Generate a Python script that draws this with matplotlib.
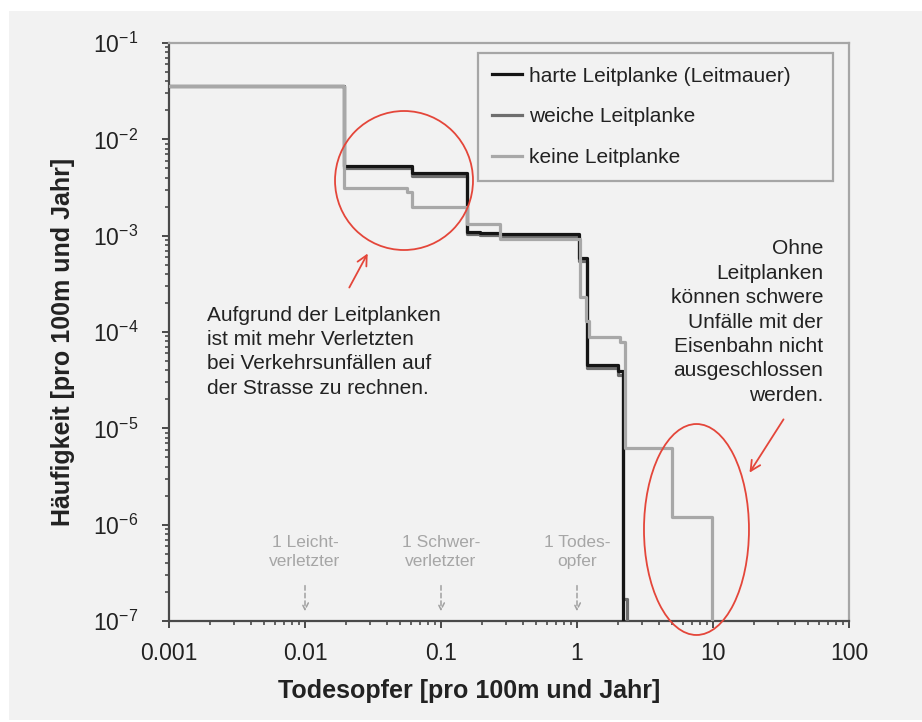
import numpy as np
import matplotlib
matplotlib.use("Agg")
import matplotlib.pyplot as plt
from matplotlib.patches import Ellipse, Rectangle
from matplotlib.ticker import FixedLocator, FixedFormatter, FuncFormatter, NullFormatter, LogLocator
import matplotlib.transforms as mtransforms

plt.rcParams['font.family'] = ['Liberation Sans', 'DejaVu Sans']
plt.rcParams['mathtext.fontset'] = 'custom'
plt.rcParams['mathtext.rm'] = 'Liberation Sans'
plt.rcParams['mathtext.it'] = 'Liberation Sans:italic'
plt.rcParams['mathtext.bf'] = 'Liberation Sans:bold'

# ---------------- data ----------------
series_names = ["harte Leitplanke (Leitmauer)", "weiche Leitplanke", "keine Leitplanke"]

x_hart = [0.001, 0.0195, 0.061, 0.154, 0.193, 0.27, 1.04, 1.18, 2.0, 2.19]
y_hart = [0.036, 0.0053, 0.0045, 0.00109, 0.00106, 0.00103, 0.00058, 4.5e-5, 3.9e-5, 1e-8]

x_weich = [0.001, 0.0195, 0.061, 0.154, 0.193, 0.27, 1.04, 1.18, 2.0, 2.19, 2.33]
y_weich = [0.036, 0.0050, 0.0042, 0.00104, 0.00101, 0.00097, 0.00055, 4.2e-5, 3.6e-5, 1.7e-7, 1e-8]

x_keine = [0.001, 0.0195, 0.056, 0.061, 0.154, 0.27, 1.05, 1.17, 1.22, 2.08, 2.25, 4.97, 9.8]
y_keine = [0.036, 0.0031, 0.00286, 0.0020, 0.00132, 0.00092, 2.3e-4, 1.3e-4, 8.9e-5, 7.9e-5, 6.2e-6, 1.2e-6, 1e-8]

x_ticks = [0.001, 0.01, 0.1, 1, 10, 100]
x_tick_labels = ["0.001", "0.01", "0.1", "1", "10", "100"]
y_ticks = [1e-7, 1e-6, 1e-5, 1e-4, 1e-3, 1e-2, 1e-1]

marker_x = [0.01, 0.1, 1]
marker_labels = ["1 Leicht-\nverletzter", "1 Schwer-\nverletzter", "1 Todes-\nopfer"]

note_left = "Aufgrund der Leitplanken\nist mit mehr Verletzten\nbei Verkehrsunfällen auf\nder Strasse zu rechnen."
note_right = "Ohne\nLeitplanken\nkönnen schwere\nUnfälle mit der\nEisenbahn nicht\nausgeschlossen\nwerden."

x_label = "Todesopfer [pro 100m und Jahr]"
y_label = "Häufigkeit [pro 100m und Jahr]"

# ---------------- styles ----------------
BG = "#f2f2f2"
C_HART = "#151515"
C_WEICH = "#6e6e6e"
C_KEINE = "#a8a8a8"
RED = "#e4463a"
TXT = "#222222"

W, H = 922, 722
fig = plt.figure(figsize=(W / 100, H / 100), dpi=100, facecolor="white")
fig.patches.append(Rectangle((9 / W, 2 / H), (W - 9) / W, (720 - 11) / H,
                             transform=fig.transFigure, facecolor=BG, edgecolor="none", zorder=-10))

ax = fig.add_axes([169 / W, (H - 621) / H, 680 / W, 578 / H])
ax.set_facecolor(BG)
ax.set_xscale("log")
ax.set_yscale("log")
ax.set_xlim(0.001, 100)
ax.set_ylim(1e-7, 1e-1)

lw = 2.3
l2, = ax.plot(x_weich, y_weich, drawstyle="steps-post", color=C_WEICH, lw=lw, label=series_names[1], zorder=3)
l1, = ax.plot(x_hart, y_hart, drawstyle="steps-post", color=C_HART, lw=lw, label=series_names[0], zorder=4)
l3, = ax.plot(x_keine, y_keine, drawstyle="steps-post", color=C_KEINE, lw=lw, label=series_names[2], zorder=5)

# spines
for s in ["left", "bottom"]:
    ax.spines[s].set_color("#4a4a4a")
    ax.spines[s].set_linewidth(1.6)
for s in ["top", "right"]:
    ax.spines[s].set_color("#a6a6a6")
    ax.spines[s].set_linewidth(1.6)

ax.xaxis.set_major_locator(FixedLocator(x_ticks))
ax.xaxis.set_major_formatter(FixedFormatter(x_tick_labels))
ax.xaxis.set_minor_locator(LogLocator(base=10, subs=np.arange(2, 10), numticks=20))
ax.xaxis.set_minor_formatter(NullFormatter())
ax.yaxis.set_major_locator(FixedLocator(y_ticks))
ax.yaxis.set_major_formatter(FuncFormatter(lambda v, _: r"$\mathregular{10^{%d}}$" % int(round(np.log10(v)))))
ax.yaxis.set_minor_locator(LogLocator(base=10, subs=np.arange(2, 10), numticks=20))
ax.yaxis.set_minor_formatter(NullFormatter())

ax.tick_params(axis="both", which="major", direction="out", length=5, width=1.4, color="#4a4a4a",
               labelsize=16.5, labelcolor=TXT)
ax.tick_params(axis="both", which="minor", direction="out", length=3, width=1.2, color="#4a4a4a")
ax.tick_params(axis="y", which="major", pad=17)
ax.tick_params(axis="x", which="major", pad=10)
for t in ax.get_yticklabels():
    t.set_va("center_baseline")

ax.set_xlabel(x_label, fontsize=18, fontweight="bold", color=TXT)
ax.xaxis.label.set_va("center")
ax.xaxis.set_label_coords(0.442, -0.121)
ax.set_ylabel(y_label, fontsize=18, fontweight="bold", color=TXT)
ax.yaxis.label.set_va("center")
ax.yaxis.set_label_coords(-0.156, 0.482)

# legend
leg = ax.legend(handles=[l1, l2, l3], loc="upper left",
                bbox_to_anchor=(0.4544, 0.7647, 0.5221, 0.218), mode="expand",
                borderaxespad=0, fontsize=15, frameon=True, fancybox=False,
                handlelength=1.45, handletextpad=0.35, labelspacing=1.05, borderpad=0.65)
fr = leg.get_frame()
fr.set_facecolor(BG)
fr.set_edgecolor("#a6a6a6")
fr.set_linewidth(1.6)
fr.set_alpha(1)
for t in leg.get_texts():
    t.set_color(TXT)

# red ellipses
ax.add_patch(Ellipse((0.3456, 0.7621), 0.2029, 0.2405, transform=ax.transAxes,
                     fill=False, edgecolor=RED, lw=1.3, zorder=6, clip_on=False))
ax.add_patch(Ellipse((0.7757, 0.1583), 0.1544, 0.365, transform=ax.transAxes,
                     fill=False, edgecolor=RED, lw=1.3, zorder=6, clip_on=False))

# red arrows
ax.annotate("", xy=(0.2941, 0.6401), xytext=(0.2632, 0.5727), xycoords="axes fraction",
            arrowprops=dict(arrowstyle="->", color=RED, lw=1.3, mutation_scale=18))
ax.annotate("", xy=(0.8515, 0.2526), xytext=(0.9059, 0.3529), xycoords="axes fraction",
            arrowprops=dict(arrowstyle="->", color=RED, lw=1.3, mutation_scale=18))

# notes
ax.text(0.0559, 0.466, note_left, transform=ax.transAxes, ha="left", va="center",
        fontsize=15, color=TXT, linespacing=1.36)
ax.text(0.9618, 0.517, note_right, transform=ax.transAxes, ha="right", va="center",
        multialignment="right", fontsize=15, color=TXT, linespacing=1.36)

# reference markers
trans = mtransforms.blended_transform_factory(ax.transData, ax.transAxes)
for xm, lab in zip(marker_x, marker_labels):
    ax.text(xm, 0.120, lab, transform=trans, ha="center", va="center", multialignment="center",
            fontsize=12.5, color="#a6a6a6", linespacing=1.32)
    ax.annotate("", xy=(xm, 0.012), xytext=(xm, 0.066), xycoords=trans, textcoords=trans,
                arrowprops=dict(arrowstyle="->", color="#a0a0a0", lw=1.1, linestyle=(0, (3, 2)),
                                mutation_scale=12))

fig.savefig("out.png", dpi=100, facecolor="white")
